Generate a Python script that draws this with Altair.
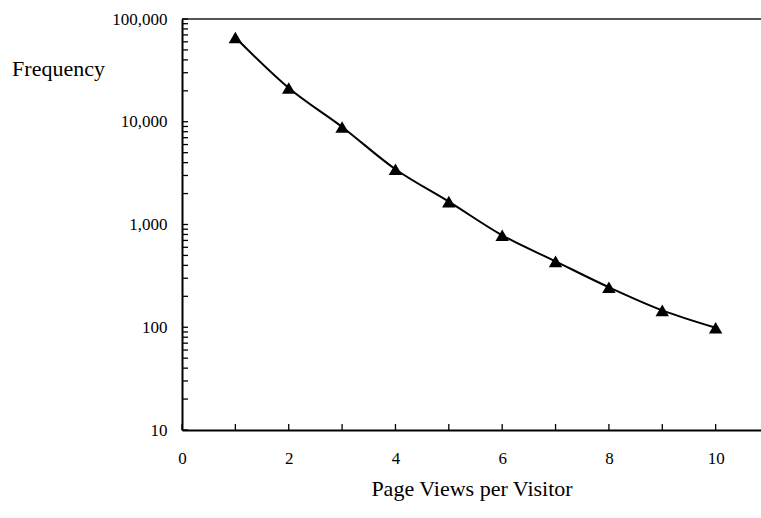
import altair as alt
import pandas as pd

# Page views per visitor and how many visitors had that many views
page_views = [1, 2, 3, 4, 5, 6, 7, 8, 9, 10]
frequency = [66000, 21300, 8900, 3450, 1670, 785, 438, 245, 146, 99]

x_labels = [0, 2, 4, 6, 8, 10]
x_ticks = [0, 1, 2, 3, 4, 5, 6, 7, 8, 9, 10]
y_labels = [10, 100, 1000, 10000, 100000]
y_ticks = [d * m for d in [10, 100, 1000, 10000] for m in range(1, 10)] + [100000]

W, H = 579, 411
X_MAX = 10.85
FONT = "Liberation Serif"
TICK_LEN = 6

df = pd.DataFrame({"views": page_views, "freq": frequency})
xt = pd.DataFrame({"xv": x_ticks})
yt = pd.DataFrame({"yv": y_ticks})

x_scale = alt.Scale(domain=[0, X_MAX], nice=False, zero=False)
y_scale = alt.Scale(type="log", domain=[10, 100000], nice=False)

x_axis = alt.Axis(
    values=x_labels, title="Page Views per Visitor", grid=False, tickSize=0,
    labelPadding=20, labelFontSize=17, labelFont=FONT, labelColor="black", labelFlush=False,
    titleFont=FONT, titleFontSize=22, titleFontWeight="normal", titleColor="black",
    titleY=58, titleBaseline="middle",
    domainColor="black", domainWidth=2,
)
y_axis = alt.Axis(
    values=y_labels, format=",", title="Frequency", grid=False, tickSize=0,
    labelPadding=15, labelFontSize=17, labelFont=FONT, labelColor="black", labelFlush=False,
    titleFont=FONT, titleFontSize=22, titleFontWeight="normal", titleColor="black",
    titleAngle=0, titleAlign="center", titleBaseline="middle", titleX=-124, titleY=49,
    domainColor="black", domainWidth=2,
)

line = alt.Chart(df).mark_line(color="black", strokeWidth=2, interpolate="cardinal").encode(
    x=alt.X("views:Q", scale=x_scale, axis=x_axis),
    y=alt.Y("freq:Q", scale=y_scale, axis=y_axis),
)
points = alt.Chart(df).mark_point(shape="triangle-up", filled=True, color="black", size=180, opacity=1).encode(
    x=alt.X("views:Q", scale=x_scale),
    y=alt.Y("freq:Q", scale=y_scale),
)

# inward-pointing tick marks on both axes
x_tick_marks = alt.Chart(xt).mark_rule(color="black", strokeWidth=1.3).encode(
    x=alt.X("xv:Q", scale=x_scale),
    y=alt.value(H),
    y2=alt.value(H - TICK_LEN),
)
y_tick_marks = alt.Chart(yt).mark_rule(color="black", strokeWidth=1.3).encode(
    y=alt.Y("yv:Q", scale=y_scale),
    x=alt.value(0),
    x2=alt.value(TICK_LEN),
)
top_line = alt.Chart(pd.DataFrame({"top": [100000]})).mark_rule(color="#555555", strokeWidth=2).encode(
    y=alt.Y("top:Q", scale=y_scale),
)

chart = (
    alt.layer(line, top_line, x_tick_marks, y_tick_marks, points)
    .properties(
        width=W, height=H,
        autosize=alt.AutoSizeParams(type="none"),
        padding={"left": 182, "top": 19, "right": 0, "bottom": 88},
        background="white",
    )
    .configure_view(stroke=None)
)

chart.save("out.html", embed_options={"renderer": "svg", "actions": False})
